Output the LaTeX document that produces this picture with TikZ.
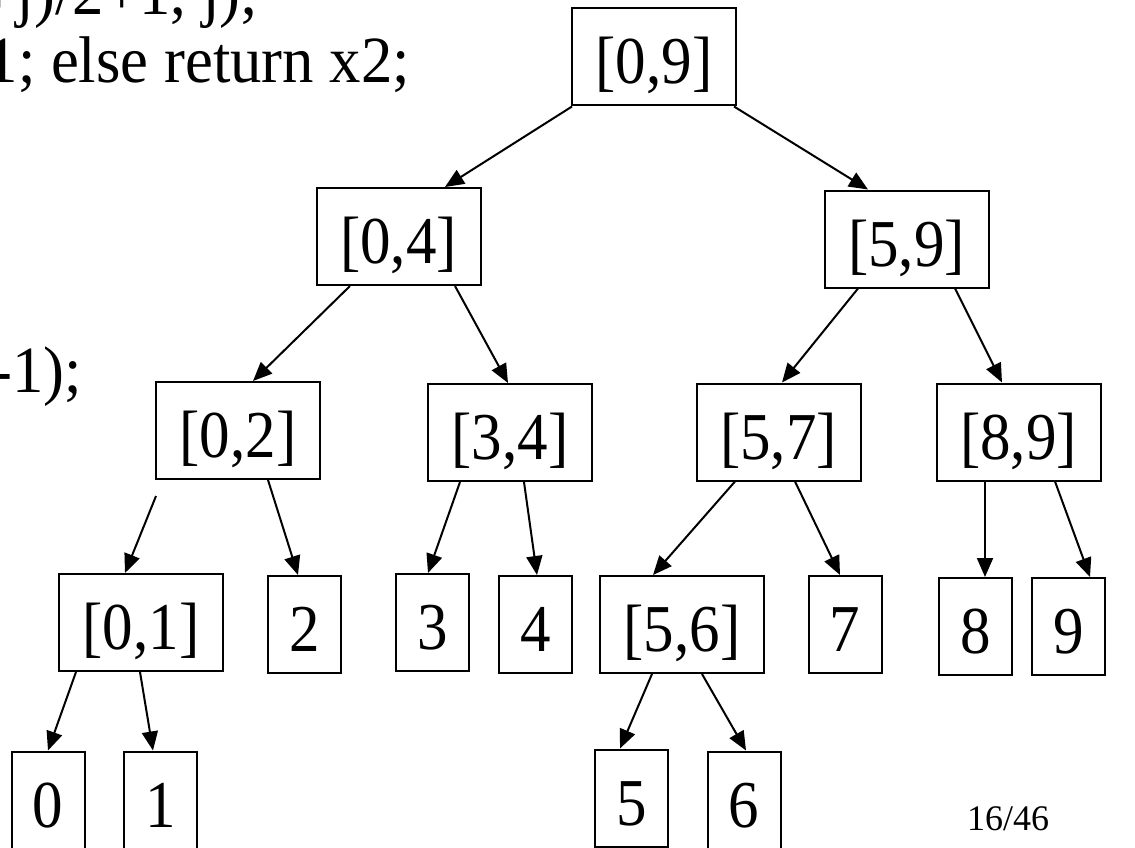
\documentclass[tikz,border=0pt]{standalone}
\usepackage{fontspec}
\setmainfont{Liberation Serif}
\newfontfamily\tnr{Liberation Serif}[FakeStretch=0.91]
\newfontfamily\tnrcode{Liberation Serif}[FakeStretch=0.95]
\usetikzlibrary{arrows.meta}
\begin{document}
\begin{tikzpicture}[x=1pt,y=-1pt,
  box/.style={draw,line width=2pt,inner sep=0pt,minimum height=97pt,
    font=\tnr\fontsize{67}{70}\selectfont,text height=54pt,text depth=0pt},
  rng/.style={box,minimum width=164pt},
  leaf/.style={box,minimum width=73pt},
  arr/.style={line width=2pt,-{Triangle[length=19pt,width=16pt]}},
  code/.style={inner sep=0pt,font=\tnrcode\fontsize{66}{70}\selectfont}]
\useasboundingbox (0,0) rectangle (1135,848);
\clip (0,0) rectangle (1135,848);
% code fragments
\node[code,anchor=base east] (c1) at (258,15) {+j)/2+1, j);};
\node[code,anchor=base east] (c2) at (410,83) {1; else return x2;};
\node[code,anchor=base east] (c3) at (82,392) {n-1);};
\node[inner sep=0pt,anchor=base west,font=\fontsize{36}{40}\selectfont] (pg) at (967,830) {16/46};
% tree nodes
\node[rng] (A) at (654,57) {[0,9]};
\node[rng] (B) at (398.5,236.5) {[0,4]};
\node[rng] (C) at (906.5,239) {[5,9]};
\node[rng] (D) at (238,430.5) {[0,2]};
\node[rng] (E) at (510,432.5) {[3,4]};
\node[rng] (F) at (778.5,432) {[5,7]};
\node[rng] (G) at (1018.5,432) {[8,9]};
\node[rng] (H) at (141,622.5) {[0,1]};
\node[leaf] (I) at (304.5,624.5) {2};
\node[leaf] (J) at (432.5,622.5) {3};
\node[leaf] (K) at (535.5,624.5) {4};
\node[rng] (L) at (682,624.5) {[5,6]};
\node[leaf] (M) at (845,624.5) {7};
\node[leaf] (N) at (975.5,626.5) {8};
\node[leaf] (O) at (1068.5,626.5) {9};
\node[leaf] (P0) at (48,800) {0};
\node[leaf] (P1) at (160.5,800) {1};
\node[leaf] (Q5) at (631.5,798) {5};
\node[leaf] (Q6) at (744,800) {6};
% edges
\draw[arr] ([xshift=-82pt]A.south) -- ([xshift=46.5pt]B.north);
\draw[arr] ([xshift=80pt]A.south) -- ([xshift=-38.5pt]C.north);
\draw[arr] ([xshift=-48.5pt]B.south) -- ([xshift=15pt]D.north);
\draw[arr] ([xshift=56.5pt]B.south) -- ([xshift=-2pt]E.north);
\draw[arr] ([xshift=-48.5pt]C.south) -- ([xshift=3.5pt]F.north);
\draw[arr] ([xshift=48.5pt]C.south) -- ([xshift=-16.5pt]G.north);
\draw[arr] ([xshift=-82pt,yshift=-16pt]D.south) -- ([xshift=-16pt]H.north);
\draw[arr] ([xshift=30pt]D.south) -- ([xshift=-6.5pt]I.north);
\draw[arr] ([xshift=-50pt]E.south) -- ([xshift=-4.5pt]J.north);
\draw[arr] ([xshift=14pt]E.south) -- ([xshift=1.5pt]K.north);
\draw[arr] ([xshift=-43.5pt]F.south) -- ([xshift=-29pt]L.north);
\draw[arr] ([xshift=16.5pt]F.south) -- ([xshift=-5pt]M.north);
\draw[arr] ([xshift=-33.5pt]G.south) -- ([xshift=9.5pt]N.north);
\draw[arr] ([xshift=36.5pt]G.south) -- ([xshift=21.5pt]O.north);
\draw[arr] ([xshift=-65pt]H.south) -- (P0.north);
\draw[arr] ([xshift=-1pt]H.south) -- ([xshift=-7.5pt]P1.north);
\draw[arr] ([xshift=-30pt]L.south) -- ([xshift=-11.5pt]Q5.north);
\draw[arr] ([xshift=20pt]L.south) -- ([xshift=2pt]Q6.north);
\end{tikzpicture}
\end{document}
